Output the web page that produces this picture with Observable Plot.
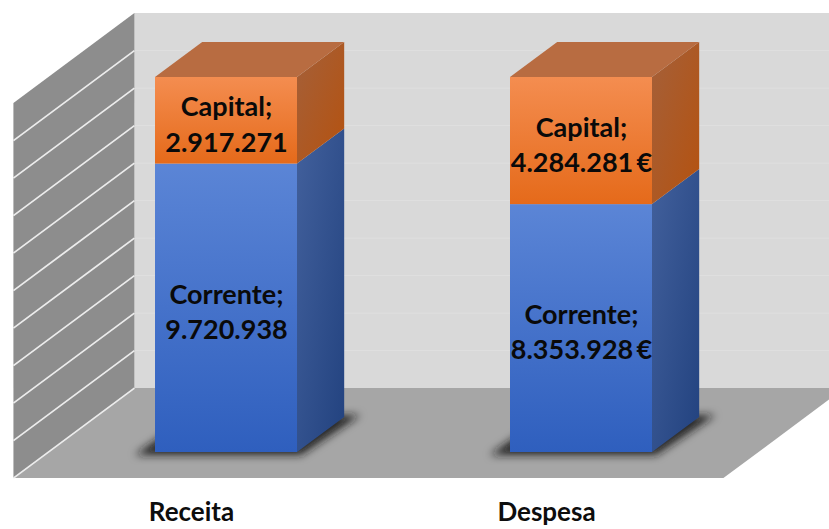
<!DOCTYPE html>
<html><head><meta charset="utf-8">
<script src="https://cdn.jsdelivr.net/npm/d3@7"></script>
<script src="https://cdn.jsdelivr.net/npm/@observablehq/plot@0.6"></script>
<style>html,body{margin:0;padding:0;background:#fff} svg{display:block}</style>
</head><body><div id="chart"></div>
<script>
// ---- data ----
const categories = ["Receita", "Despesa"];
const series = ["Corrente", "Capital"];
const corrente = [9720938, 8353928];
const capital = [2917271, 4284281];
const units = ["", "\u2009€"];
const gridTicks = [0, 0.1, 0.2, 0.3, 0.4, 0.5, 0.6, 0.7, 0.8, 0.9, 1];

const fmt = d3.formatLocale({decimal: ",", thousands: ".", grouping: [3], currency: ["", "€"]}).format(",d");
const rows = categories.flatMap((cat, i) => [
  {cat, series: series[0], value: corrente[i], label: `${series[0]};\n${fmt(corrente[i])}${units[i]}`},
  {cat, series: series[1], value: capital[i], label: `${series[1]};\n${fmt(capital[i])}${units[i]}`}
]);

// ---- 3D projection (depth 0 = floor front, 1 = back wall) ----
const FULL = [121, -90];
const BAR_FRONT = 0.29, BAR_BACK = 0.68;
const off = d => [(d - BAR_FRONT) * FULL[0], (d - BAR_FRONT) * FULL[1]];
const pts = a => a.map(p => p.join(",")).join(" ");

function drawWalls(index, scales, values, dims) {
  const g = d3.create("svg:g");
  const defs = g.append("defs");
  const lg = (id, x2, y2, stops) => {
    const l = defs.append("linearGradient").attr("id", id).attr("x1", 0).attr("y1", 0).attr("x2", x2).attr("y2", y2);
    stops.forEach(([o, c]) => l.append("stop").attr("offset", o).attr("stop-color", c));
  };
  lg("frontBlue", 0, 1, [[0, "#5b85d6"], [1, "#2f5fbe"]]);
  lg("frontOrange", 0, 1, [[0, "#f48d50"], [1, "#e56a1a"]]);
  lg("sideBlue", 1, 1, [[0, "#42609c"], [1, "#22427f"]]);
  lg("sideOrange", 1, 1, [[0, "#a4603a"], [1, "#b5520f"]]);
  defs.append("filter").attr("id", "shadowBlur").attr("x", "-30%").attr("y", "-60%").attr("width", "160%").attr("height", "220%")
    .append("feGaussianBlur").attr("stdDeviation", 4);

  const xL = dims.marginLeft, xR = dims.width - dims.marginRight;
  const y0 = scales.y(0), y1 = scales.y(1);
  const f = off(0), b = off(1);
  // back wall
  g.append("polygon").attr("points", pts([[xL + b[0], y1 + b[1]], [xR + b[0] + 200, y1 + b[1]], [xR + b[0] + 200, y0 + b[1]], [xL + b[0], y0 + b[1]]]))
    .attr("fill", "#d9d9d9");
  // back wall grid
  for (const i of index) {
    const y = values.y[i];
    if (gridTicks[i] === 0 || gridTicks[i] === 1) continue;
    g.append("line").attr("x1", xL + b[0]).attr("x2", xR + b[0] + 200).attr("y1", y + b[1]).attr("y2", y + b[1])
      .attr("stroke", "#dfdfdf").attr("stroke-width", 1);
  }
  // floor
  g.append("polygon").attr("points", pts([[xL + f[0], y0 + f[1]], [xR + f[0], y0 + f[1]], [xR + b[0], y0 + b[1]], [xL + b[0], y0 + b[1]]]))
    .attr("fill", "#a6a6a6");
  // left wall
  g.append("polygon").attr("points", pts([[xL + f[0], y0 + f[1]], [xL + f[0], y1 + f[1]], [xL + b[0], y1 + b[1]], [xL + b[0], y0 + b[1]]]))
    .attr("fill", "#8d8d8d");
  for (const i of index) {
    if (gridTicks[i] === 1) continue;
    const y = values.y[i];
    g.append("line").attr("x1", xL + f[0]).attr("y1", y + f[1]).attr("x2", xL + b[0]).attr("y2", y + b[1])
      .attr("stroke", "#ececec").attr("stroke-width", 1.8);
  }
  return g.node();
}

const sideFill = {Corrente: "url(#sideBlue)", Capital: "url(#sideOrange)"};
const topFill = {Corrente: "#4063a8", Capital: "#b86c41"};

function draw3D(index, scales, values, dims, context, next) {
  const g = next(index, scales, values, dims, context);
  const rects = Array.from(g.querySelectorAll("rect"));
  const items = Array.from(index);
  const [dx, dy] = [(BAR_BACK - BAR_FRONT) * FULL[0], (BAR_BACK - BAR_FRONT) * FULL[1]];
  const geo = rects.map((r, k) => ({
    x: +r.getAttribute("x"), y: +r.getAttribute("y"),
    w: +r.getAttribute("width"), h: +r.getAttribute("height"),
    s: rows[items[k]].series
  }));
  const topY = d3.rollup(geo, v => d3.min(v, d => d.y), d => d.x);
  const bottomY = d3.rollup(geo, v => d3.max(v, d => d.y + d.h), d => d.x);
  const sel = d3.select(g);
  const first = rects[0];
  // shadows
  for (const [x, yb] of bottomY) {
    const w = geo.find(d => d.x === x).w;
    const sh = document.createElementNS("http://www.w3.org/2000/svg", "polygon");
    sh.setAttribute("points", pts([[x - 20, yb + 3], [x + w + 4, yb + 3], [x + w + dx + 16, yb + dy - 2], [x + dx - 10, yb + dy - 2]]));
    sh.setAttribute("fill", "#1a1a1a");
    sh.setAttribute("fill-opacity", 0.9);
    sh.setAttribute("filter", "url(#shadowBlur)");
    g.insertBefore(sh, first);
  }
  for (const d of geo) {
    sel.append("polygon").attr("points", pts([[d.x + d.w, d.y], [d.x + d.w + dx, d.y + dy], [d.x + d.w + dx, d.y + d.h + dy], [d.x + d.w, d.y + d.h]]))
      .attr("fill", sideFill[d.s]);
    if (d.y === topY.get(d.x)) {
      sel.append("polygon").attr("points", pts([[d.x, d.y], [d.x + d.w, d.y], [d.x + d.w + dx, d.y + dy], [d.x + dx, d.y + dy]]))
        .attr("fill", topFill[d.s]);
    }
  }
  return g;
}

const chart = Plot.plot({
  width: 829, height: 529,
  marginLeft: 48.5, marginRight: 70.5, marginTop: 77, marginBottom: 77,
  x: {domain: categories, paddingInner: 0.6, paddingOuter: 0.3, axis: null},
  y: {domain: [0, 1], axis: null},
  color: {domain: series, range: ["url(#frontBlue)", "url(#frontOrange)"]},
  style: {background: "#fff", fontFamily: "Lato, 'Open Sans', sans-serif"},
  marks: [
    Plot.ruleY(gridTicks, {y: d => d, render: drawWalls}),
    Plot.barY(rows, Plot.stackY({x: "cat", y: "value", fill: "series", z: "series", offset: "normalize", order: series, render: draw3D})),
    Plot.text(rows, Plot.stackY({x: "cat", y: "value", z: "series", text: "label", offset: "normalize", order: series,
      fontSize: 27, fontWeight: "bold", fill: "#0a0a0a", lineHeight: 1.3, dy: 2})),
    Plot.axisX({dx: -35, dy: 50, tickSize: 0, tickPadding: 0, fontSize: 26, fontWeight: "bold", fill: "#0d0d0d", label: null})
  ]
});
document.getElementById("chart").append(chart);
</script>
</body></html>
